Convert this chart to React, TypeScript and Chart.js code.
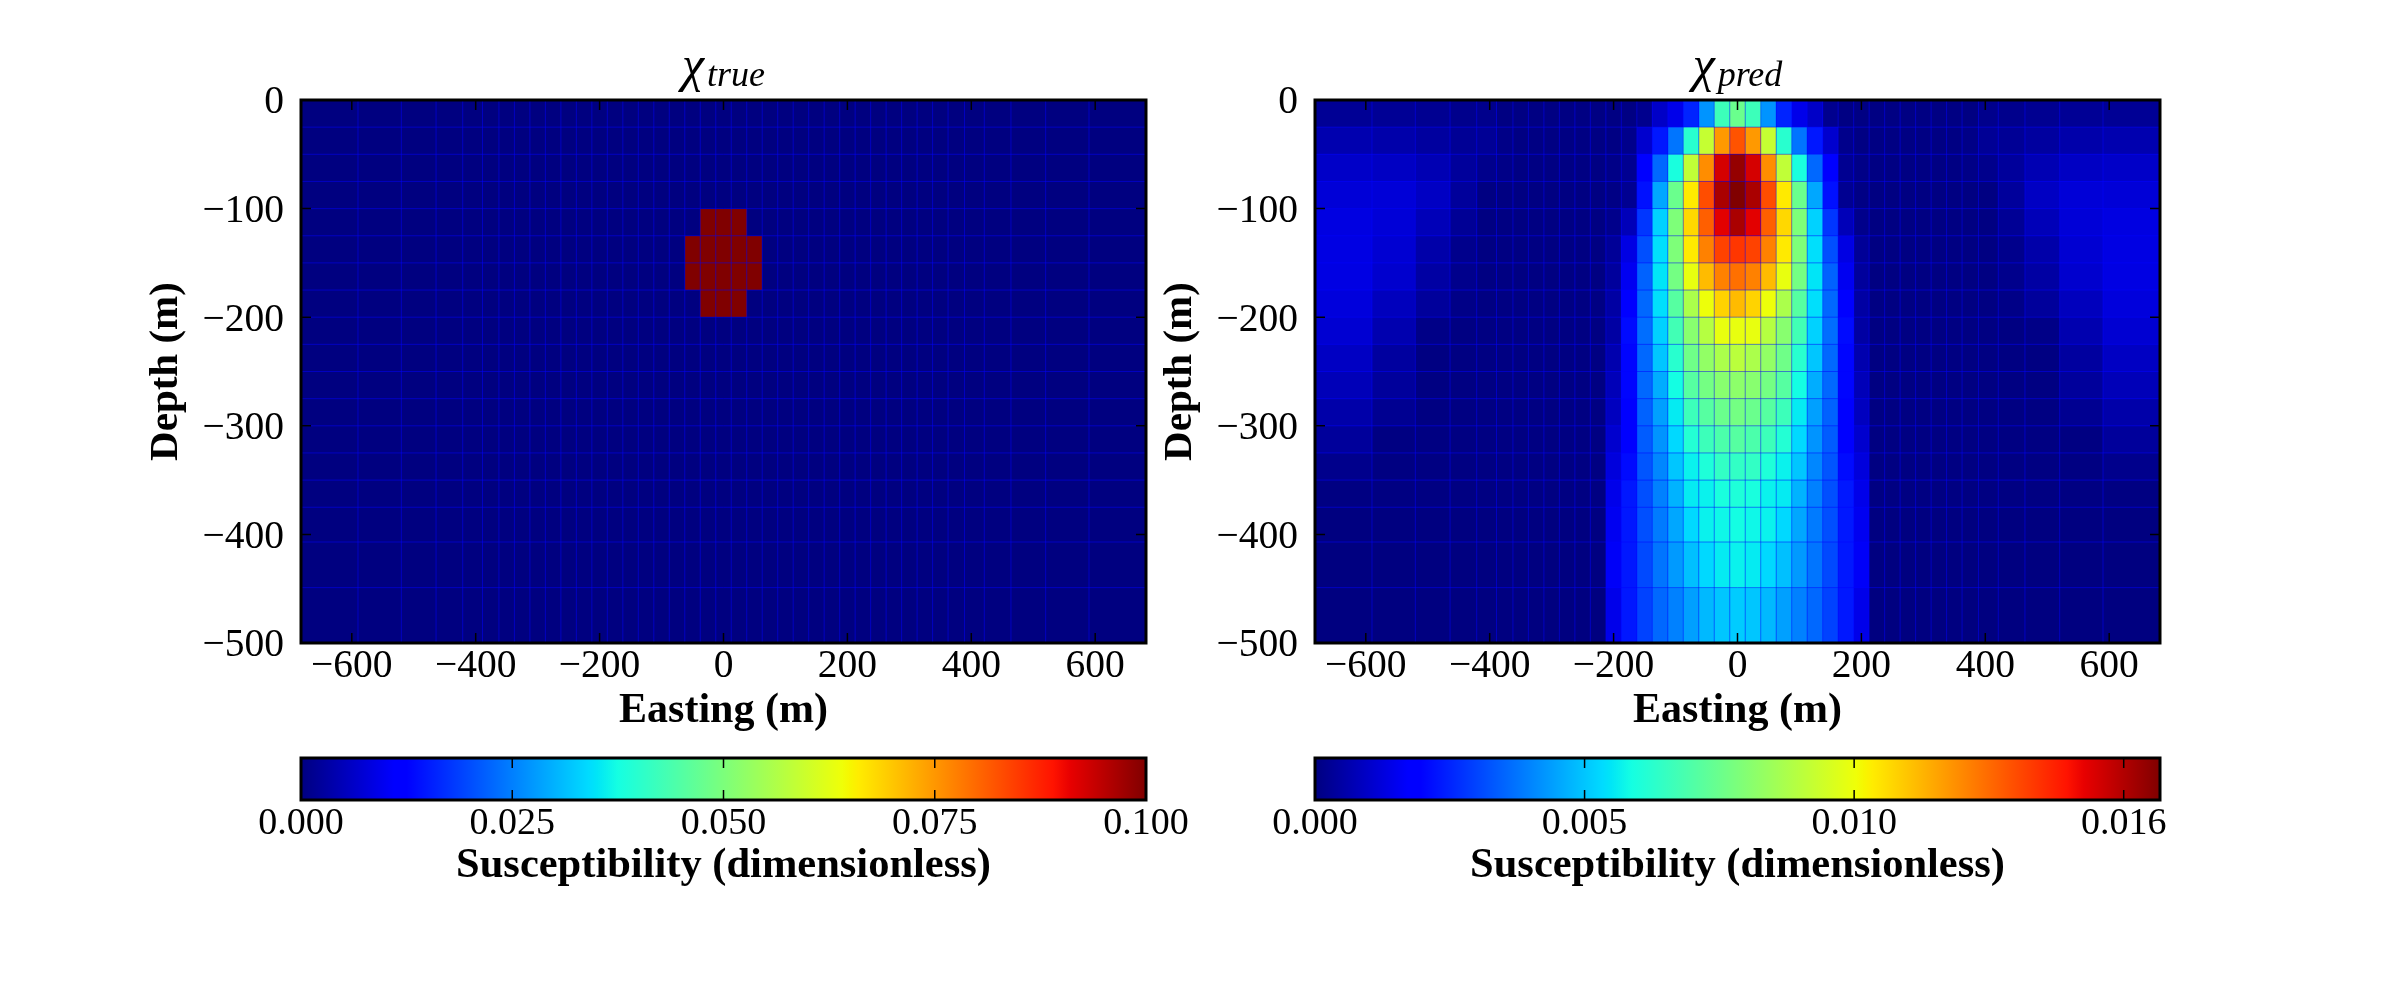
import { useEffect, useRef } from 'react'
import { Chart, registerables } from 'chart.js'
Chart.register(...registerables)

const FONT = '"Liberation Serif", serif'

// mesh edges in metres
const xEdges = [-682, -590, -520, -464, -421, -389, -362.5, -337.5, -312.5, -287.5, -262.5, -237.5, -212.5, -187.5, -162.5, -137.5, -112.5, -87.5, -62.5, -37.5, -12.5, 12.5, 37.5, 62.5, 87.5, 112.5, 137.5, 162.5, 187.5, 212.5, 237.5, 262.5, 287.5, 312.5, 337.5, 362.5, 389, 421, 464, 520, 590, 682]
const yEdges = [0, -25, -50, -75, -100, -125, -150, -175, -200, -225, -250, -275, -300, -325, -350, -375, -407, -449, -500]

const xTicks = [-600, -400, -200, 0, 200, 400, 600]
const yTicks = [0, -100, -200, -300, -400, -500]

// chi_true, susceptibility per row (top to bottom), column by column
const trueRows = [
  [0, 0, 0, 0, 0, 0, 0, 0, 0, 0, 0, 0, 0, 0, 0, 0, 0, 0, 0, 0, 0, 0, 0, 0, 0, 0, 0, 0, 0, 0, 0, 0, 0, 0, 0, 0, 0, 0, 0, 0, 0],
  [0, 0, 0, 0, 0, 0, 0, 0, 0, 0, 0, 0, 0, 0, 0, 0, 0, 0, 0, 0, 0, 0, 0, 0, 0, 0, 0, 0, 0, 0, 0, 0, 0, 0, 0, 0, 0, 0, 0, 0, 0],
  [0, 0, 0, 0, 0, 0, 0, 0, 0, 0, 0, 0, 0, 0, 0, 0, 0, 0, 0, 0, 0, 0, 0, 0, 0, 0, 0, 0, 0, 0, 0, 0, 0, 0, 0, 0, 0, 0, 0, 0, 0],
  [0, 0, 0, 0, 0, 0, 0, 0, 0, 0, 0, 0, 0, 0, 0, 0, 0, 0, 0, 0, 0, 0, 0, 0, 0, 0, 0, 0, 0, 0, 0, 0, 0, 0, 0, 0, 0, 0, 0, 0, 0],
  [0, 0, 0, 0, 0, 0, 0, 0, 0, 0, 0, 0, 0, 0, 0, 0, 0, 0, 0, .1, .1, .1, 0, 0, 0, 0, 0, 0, 0, 0, 0, 0, 0, 0, 0, 0, 0, 0, 0, 0, 0],
  [0, 0, 0, 0, 0, 0, 0, 0, 0, 0, 0, 0, 0, 0, 0, 0, 0, 0, .1, .1, .1, .1, .1, 0, 0, 0, 0, 0, 0, 0, 0, 0, 0, 0, 0, 0, 0, 0, 0, 0, 0],
  [0, 0, 0, 0, 0, 0, 0, 0, 0, 0, 0, 0, 0, 0, 0, 0, 0, 0, .1, .1, .1, .1, .1, 0, 0, 0, 0, 0, 0, 0, 0, 0, 0, 0, 0, 0, 0, 0, 0, 0, 0],
  [0, 0, 0, 0, 0, 0, 0, 0, 0, 0, 0, 0, 0, 0, 0, 0, 0, 0, 0, .1, .1, .1, 0, 0, 0, 0, 0, 0, 0, 0, 0, 0, 0, 0, 0, 0, 0, 0, 0, 0, 0],
  [0, 0, 0, 0, 0, 0, 0, 0, 0, 0, 0, 0, 0, 0, 0, 0, 0, 0, 0, 0, 0, 0, 0, 0, 0, 0, 0, 0, 0, 0, 0, 0, 0, 0, 0, 0, 0, 0, 0, 0, 0],
  [0, 0, 0, 0, 0, 0, 0, 0, 0, 0, 0, 0, 0, 0, 0, 0, 0, 0, 0, 0, 0, 0, 0, 0, 0, 0, 0, 0, 0, 0, 0, 0, 0, 0, 0, 0, 0, 0, 0, 0, 0],
  [0, 0, 0, 0, 0, 0, 0, 0, 0, 0, 0, 0, 0, 0, 0, 0, 0, 0, 0, 0, 0, 0, 0, 0, 0, 0, 0, 0, 0, 0, 0, 0, 0, 0, 0, 0, 0, 0, 0, 0, 0],
  [0, 0, 0, 0, 0, 0, 0, 0, 0, 0, 0, 0, 0, 0, 0, 0, 0, 0, 0, 0, 0, 0, 0, 0, 0, 0, 0, 0, 0, 0, 0, 0, 0, 0, 0, 0, 0, 0, 0, 0, 0],
  [0, 0, 0, 0, 0, 0, 0, 0, 0, 0, 0, 0, 0, 0, 0, 0, 0, 0, 0, 0, 0, 0, 0, 0, 0, 0, 0, 0, 0, 0, 0, 0, 0, 0, 0, 0, 0, 0, 0, 0, 0],
  [0, 0, 0, 0, 0, 0, 0, 0, 0, 0, 0, 0, 0, 0, 0, 0, 0, 0, 0, 0, 0, 0, 0, 0, 0, 0, 0, 0, 0, 0, 0, 0, 0, 0, 0, 0, 0, 0, 0, 0, 0],
  [0, 0, 0, 0, 0, 0, 0, 0, 0, 0, 0, 0, 0, 0, 0, 0, 0, 0, 0, 0, 0, 0, 0, 0, 0, 0, 0, 0, 0, 0, 0, 0, 0, 0, 0, 0, 0, 0, 0, 0, 0],
  [0, 0, 0, 0, 0, 0, 0, 0, 0, 0, 0, 0, 0, 0, 0, 0, 0, 0, 0, 0, 0, 0, 0, 0, 0, 0, 0, 0, 0, 0, 0, 0, 0, 0, 0, 0, 0, 0, 0, 0, 0],
  [0, 0, 0, 0, 0, 0, 0, 0, 0, 0, 0, 0, 0, 0, 0, 0, 0, 0, 0, 0, 0, 0, 0, 0, 0, 0, 0, 0, 0, 0, 0, 0, 0, 0, 0, 0, 0, 0, 0, 0, 0],
  [0, 0, 0, 0, 0, 0, 0, 0, 0, 0, 0, 0, 0, 0, 0, 0, 0, 0, 0, 0, 0, 0, 0, 0, 0, 0, 0, 0, 0, 0, 0, 0, 0, 0, 0, 0, 0, 0, 0, 0, 0],
]

// chi_pred, in units of 1e-4
const predRows = [
  [3, 3, 2.4, 1.7, 1.7, .3, .5, .5, .5, .5, .5, .5, .5, .5, 2, 10, 15, 26, 44, 69, 78, 69, 44, 26, 15, 10, 2, .5, .5, .5, .5, .5, .5, .5, .5, .3, 1.7, 1.7, 2.4, 3, 3],
  [6.7, 6, 4.5, 3, 3, 1, .5, .5, .5, .5, .5, .5, .5, 1.6, 11, 24, 39, 65, 96, 122, 134, 122, 96, 65, 39, 24, 11, 1.6, .5, .5, .5, .5, .5, .5, .5, 1, 3, 3, 4.5, 6, 6.7],
  [10.2, 9.5, 7.3, 3.8, 1.7, 1, .5, .5, .5, .5, .5, .5, 1, 2.4, 19, 37, 62, 95, 124, 151, 160, 151, 124, 95, 62, 37, 19, 2.4, 1, .5, .5, .5, .5, .5, .5, 1, 1.7, 3.8, 7.3, 9.5, 10.2],
  [12.3, 12.3, 9.5, 3.8, .3, .3, .3, .3, .3, .3, .3, .3, .8, 2.4, 23, 47, 78, 108, 135, 157, 163, 157, 135, 108, 78, 47, 23, 2.4, .8, .3, .3, .3, .3, .3, .3, .3, .3, 3.8, 9.5, 12.3, 12.3],
  [13.7, 12.3, 8, 3, .3, .3, .3, .3, .3, .3, .3, .3, 1.6, 8, 29, 54, 82, 111, 132, 149, 157, 149, 132, 111, 82, 54, 29, 8, 1.6, .3, .3, .3, .3, .3, .3, .3, .3, 3, 8, 12.3, 13.7],
  [14, 11.6, 5.8, 1.7, .3, .3, .3, .3, .3, .3, .3, .3, 3.3, 14, 33, 56, 82, 108, 126, 137, 139, 137, 126, 108, 82, 56, 33, 14, 3.3, .3, .3, .3, .3, .3, .3, .3, .3, 1.7, 5.8, 11.6, 14],
  [14, 11, 5, 1.7, .3, .3, .3, .3, .3, .3, .3, .3, 4, 16, 36, 57, 80, 103, 116, 126, 129, 126, 116, 103, 80, 57, 36, 16, 4, .3, .3, .3, .3, .3, .3, .3, .3, 1.7, 5, 11, 14],
  [13, 8.7, 3.8, 1, .3, .3, .3, .3, .3, .3, .3, .5, 5, 19, 37, 56, 74, 91, 104, 112, 116, 112, 104, 91, 74, 56, 37, 19, 5, .5, .3, .3, .3, .3, .3, .3, .3, 1, 3.8, 8.7, 13],
  [11.6, 6.7, 1, .3, .3, .3, .3, .3, .3, .3, .3, .3, 5, 22, 38, 54, 70, 84, 93, 103, 103, 103, 93, 84, 70, 54, 38, 22, 5, .3, .3, .3, .3, .3, .3, .3, .3, .3, 1, 6.7, 11.6],
  [9.5, 4.5, .3, .3, .3, .3, .3, .3, .3, .3, .3, .3, 6.5, 21, 37, 52, 65, 79, 86, 91, 94, 91, 86, 79, 65, 52, 37, 21, 6.5, .3, .3, .3, .3, .3, .3, .3, .3, .3, .3, 4.5, 9.5],
  [8, 3.8, .3, .3, .3, .3, .3, .3, .3, .3, .3, .3, 8, 21, 37, 48, 61, 74, 80, 84, 85, 84, 80, 74, 61, 48, 37, 21, 8, .3, .3, .3, .3, .3, .3, .3, .3, .3, .3, 3.8, 8],
  [5.8, 2.4, .3, .3, .3, .3, .3, .3, .3, .3, .3, .3, 9, 20, 36, 46, 58, 69, 74, 78, 80, 78, 74, 69, 58, 46, 36, 20, 9, .3, .3, .3, .3, .3, .3, .3, .3, .3, .3, 2.4, 5.8],
  [3.8, .3, .3, .3, .3, .3, .3, .3, .3, .3, .3, .3, 11, 20, 35, 44, 55, 64, 69, 72, 74, 72, 69, 64, 55, 44, 35, 20, 11, .3, .3, .3, .3, .3, .3, .3, .3, .3, .3, .3, 3.8],
  [1.7, .3, .3, .3, .3, .3, .3, .3, .3, .3, .3, .3, 13, 22, 34, 42, 52, 59, 63, 67, 67, 67, 63, 59, 52, 42, 34, 22, 13, .3, .3, .3, .3, .3, .3, .3, .3, .3, .3, .3, 1.7],
  [.3, .3, .3, .3, .3, .3, .3, .3, .3, .3, .3, .3, 15, 24, 33, 41, 49, 58, 59, 62, 63, 62, 59, 58, 49, 41, 33, 24, 15, .3, .3, .3, .3, .3, .3, .3, .3, .3, .3, .3, .3],
  [0, 0, 0, 0, 0, 0, 0, 0, 0, 0, 0, .2, 16, 24, 33, 40, 47, 55, 59, 60, 61, 60, 59, 55, 47, 40, 33, 24, 16, .2, 0, 0, 0, 0, 0, 0, 0, 0, 0, 0, 0],
  [0, 0, 0, 0, 0, 0, 0, 0, 0, 0, 0, .2, 17, 24, 32, 39, 45, 51, 55, 58, 59, 58, 55, 51, 45, 39, 32, 24, 17, .2, 0, 0, 0, 0, 0, 0, 0, 0, 0, 0, 0],
  [0, 0, 0, 0, 0, 0, 0, 0, 0, 0, 0, .1, 15, 24, 31, 37, 41, 46, 50, 52, 53, 52, 50, 46, 41, 37, 31, 24, 15, .1, 0, 0, 0, 0, 0, 0, 0, 0, 0, 0, 0],
]

const trueBarTicks = [0, .025, .05, .075, .1]
const predBarTicks = [0, .0052, .0104, .0156]
const TRUE_MAX = .1
const PRED_MAX = .0163

// matplotlib jet segments
const jetR = [[0, 0], [.35, 0], [.66, 1], [.89, 1], [1, .5]]
const jetG = [[0, 0], [.125, 0], [.375, 1], [.64, 1], [.91, 0], [1, 0]]
const jetB = [[0, .5], [.11, 1], [.34, 1], [.65, 0], [1, 0]]
const jetStops = [0, .11, .125, .34, .35, .375, .64, .65, .66, .89, .91, 1]

function seg(s: number[][], t: number) {
  for (let i = 1; i < s.length; i++) {
    if (t <= s[i][0]) return s[i - 1][1] + (s[i][1] - s[i - 1][1]) * (t - s[i - 1][0]) / (s[i][0] - s[i - 1][0])
  }
  return s[s.length - 1][1]
}
function jet(t: number) {
  const c = Math.max(0, Math.min(1, t))
  return `rgb(${Math.round(seg(jetR, c) * 255)},${Math.round(seg(jetG, c) * 255)},${Math.round(seg(jetB, c) * 255)})`
}

const fmtMinus = (v: number) => String(v).replace('-', '\u2212')

// cells + mesh lines, positioned through the chart's scales
const meshPlugin = {
  id: 'mesh',
  beforeDatasetsDraw(chart: any) {
    const ds = chart.data.datasets[0]
    if (!ds.cells) return
    const { x, y } = chart.scales
    const { ctx, chartArea: a } = chart
    ctx.save()
    for (const c of ds.data) {
      const l = Math.round(x.getPixelForValue(c.x0)), r = Math.round(x.getPixelForValue(c.x1))
      const t = Math.round(y.getPixelForValue(c.y0)), b = Math.round(y.getPixelForValue(c.y1))
      ctx.fillStyle = jet(c.v / ds.vmax)
      ctx.fillRect(l, t, r - l, b - t)
    }
    ctx.strokeStyle = 'rgba(0,0,255,.5)'
    ctx.lineWidth = 1
    ctx.beginPath()
    for (const e of xEdges) {
      const p = x.getPixelForValue(e)
      ctx.moveTo(p, a.top)
      ctx.lineTo(p, a.bottom)
    }
    for (const e of yEdges) {
      const p = y.getPixelForValue(e)
      ctx.moveTo(a.left, p)
      ctx.lineTo(a.right, p)
    }
    ctx.stroke()
    ctx.restore()
  },
}

// matplotlib classic look: thick box, ticks inside on all sides
const framePlugin = {
  id: 'frame',
  afterDatasetsDraw(chart: any) {
    const { ctx, chartArea: a, scales } = chart
    ctx.save()
    ctx.strokeStyle = '#000'
    ctx.lineWidth = 1.5
    ctx.beginPath()
    for (const t of scales.x.ticks) {
      const p = scales.x.getPixelForValue(t.value)
      ctx.moveTo(p, a.top)
      ctx.lineTo(p, a.top + 10)
      ctx.moveTo(p, a.bottom)
      ctx.lineTo(p, a.bottom - 10)
    }
    if (scales.y.type === 'linear') {
      for (const t of scales.y.ticks) {
        const p = scales.y.getPixelForValue(t.value)
        ctx.moveTo(a.left, p)
        ctx.lineTo(a.left + 10, p)
        ctx.moveTo(a.right, p)
        ctx.lineTo(a.right - 10, p)
      }
    }
    ctx.stroke()
    ctx.lineWidth = 3
    ctx.strokeRect(a.left, a.top, a.right - a.left, a.bottom - a.top)
    ctx.restore()
  },
}

const PLOT_W = 845
const PLOT_H = 543
const PLOT_TOP = 100
const BAR_TOP = 758
const BAR_H = 42

interface PanelProps { rows: number[][]; scale: number; vmax: number; plotLeft: number; sub: string }

function HeatPanel({ rows, scale, vmax, plotLeft, sub }: PanelProps) {
  const ref = useRef<HTMLCanvasElement>(null)
  const padL = 159, padT = 40, padR = 60, h = 676

  useEffect(() => {
    if (!ref.current) return
    const cells: any[] = []
    rows.forEach((row, j) => row.forEach((v, i) => {
      cells.push({ x: (xEdges[i] + xEdges[i + 1]) / 2, y: (yEdges[j] + yEdges[j + 1]) / 2, x0: xEdges[i], x1: xEdges[i + 1], y0: yEdges[j], y1: yEdges[j + 1], v: v * scale })
    }))
    const chart = new Chart(ref.current, {
      type: 'scatter',
      data: { datasets: [{ data: cells, pointRadius: 0, cells: true, vmax } as any] },
      options: {
        animation: false, responsive: false, devicePixelRatio: 1, events: [],
        layout: { padding: { left: 0, top: padT, right: padR, bottom: 0 } },
        plugins: { legend: { display: false }, tooltip: { enabled: false } },
        scales: {
          x: {
            type: 'linear', min: -682, max: 682, border: { display: false }, grid: { display: false },
            afterBuildTicks: (s: any) => { s.ticks = xTicks.map(value => ({ value })) },
            afterFit: (s: any) => { s.height = h - padT - PLOT_H },
            ticks: { color: '#000', font: { family: FONT, size: 39.5 }, padding: -8, maxRotation: 0, autoSkip: false, callback: (v: any) => fmtMinus(v) },
            title: { display: true, text: 'Easting (m)', color: '#000', font: { family: FONT, size: 42, weight: 'bold' }, padding: { top: 0, bottom: 0 } },
          },
          y: {
            type: 'linear', min: -500, max: 0, border: { display: false }, grid: { display: false },
            afterBuildTicks: (s: any) => { s.ticks = yTicks.map(value => ({ value })) },
            afterFit: (s: any) => { s.width = padL },
            // the empty first line nudges the label down a few px, like the reference
            ticks: { color: '#000', font: { family: FONT, size: 39.5, lineHeight: .15 }, padding: 9, autoSkip: false, callback: (v: any) => ['', fmtMinus(v)] },
            title: { display: true, text: 'Depth (m)', color: '#000', font: { family: FONT, size: 41, weight: 'bold' }, padding: { top: 0, bottom: 0 } },
          },
        },
      },
      plugins: [meshPlugin, framePlugin],
    })
    return () => chart.destroy()
  }, [])

  return (
    <>
      <canvas ref={ref} width={padL + PLOT_W + padR} height={h}
        style={{ position: 'absolute', left: plotLeft - padL, top: PLOT_TOP - padT, display: 'block' }} />
      <div style={{ position: 'absolute', left: plotLeft, top: 47, width: PLOT_W, textAlign: 'center', fontFamily: FONT, fontStyle: 'italic', fontSize: 36, lineHeight: '44px', color: '#000' }}>
        <span style={{ fontSize: 50, position: 'relative', top: -5, marginRight: 3 }}>χ</span>{sub}
      </div>
    </>
  )
}

interface BarProps { ticks: number[]; vmax: number; plotLeft: number }

function ColorBar({ ticks, vmax, plotLeft }: BarProps) {
  const ref = useRef<HTMLCanvasElement>(null)
  const padX = 60, padT = 19, h = 153

  useEffect(() => {
    if (!ref.current) return
    const chart = new Chart(ref.current, {
      type: 'bar',
      data: {
        labels: ['Susceptibility'],
        datasets: [{
          data: [vmax], barPercentage: 1, categoryPercentage: 1,
          backgroundColor: (c: any) => {
            const a = c.chart.chartArea
            if (!a) return '#000080'
            const g = c.chart.ctx.createLinearGradient(a.left, 0, a.right, 0)
            jetStops.forEach(t => g.addColorStop(t, jet(t)))
            return g
          },
        }],
      },
      options: {
        indexAxis: 'y', animation: false, responsive: false, devicePixelRatio: 1, events: [],
        layout: { padding: { left: padX, top: padT, right: padX, bottom: 0 } },
        plugins: { legend: { display: false }, tooltip: { enabled: false } },
        scales: {
          y: { display: false },
          x: {
            type: 'linear', min: 0, max: vmax, border: { display: false }, grid: { display: false },
            afterBuildTicks: (s: any) => { s.ticks = ticks.map(value => ({ value })) },
            afterFit: (s: any) => { s.height = h - padT - BAR_H },
            ticks: { color: '#000', font: { family: FONT, size: 38 }, padding: -7, maxRotation: 0, autoSkip: false, callback: (v: any) => Number(v).toFixed(3) },
            title: { display: true, text: 'Susceptibility (dimensionless)', color: '#000', font: { family: FONT, size: 42.5, weight: 'bold' }, padding: { top: 0, bottom: 0 } },
          },
        },
      } as any,
      plugins: [framePlugin],
    })
    return () => chart.destroy()
  }, [])

  return (
    <canvas ref={ref} width={PLOT_W + padX * 2} height={h}
      style={{ position: 'absolute', left: plotLeft - padX, top: BAR_TOP - padT, display: 'block' }} />
  )
}

export default function App() {
  return (
    <div style={{ position: 'absolute', left: 0, top: 0, width: 2400, height: 1000, background: '#fff', overflow: 'hidden' }}>
      <HeatPanel rows={trueRows} scale={1} vmax={TRUE_MAX} plotLeft={301} sub="true" />
      <HeatPanel rows={predRows} scale={1e-4} vmax={PRED_MAX} plotLeft={1315} sub="pred" />
      <ColorBar ticks={trueBarTicks} vmax={TRUE_MAX} plotLeft={301} />
      <ColorBar ticks={predBarTicks} vmax={PRED_MAX} plotLeft={1315} />
    </div>
  )
}
